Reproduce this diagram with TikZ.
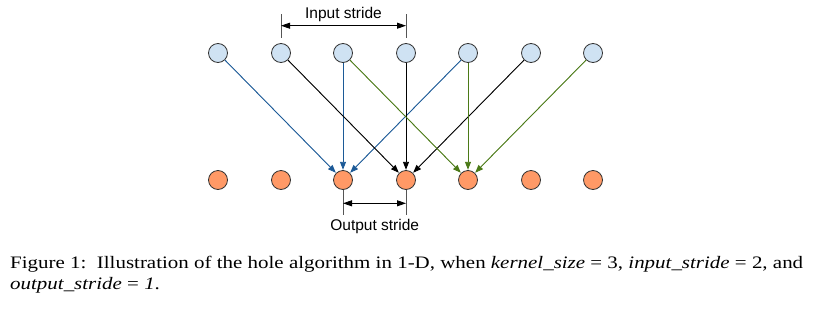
\documentclass[tikz,border=0pt]{standalone}
\usepackage{fontspec}
\setmainfont{Liberation Serif}
\setsansfont{Liberation Sans}
\usepackage{graphicx}
\usetikzlibrary{arrows.meta}
\definecolor{infill}{HTML}{CFE2F3}
\definecolor{outfill}{HTML}{FF9966}
\definecolor{edgeblue}{HTML}{1C5A97}
\definecolor{edgegreen}{HTML}{4B7A17}
\definecolor{circline}{HTML}{333333}
\definecolor{tickgray}{HTML}{555555}
\begin{document}
\begin{tikzpicture}[x=1pt,y=-1pt,
  innode/.style={circle,draw=circline,fill=infill,line width=0.8pt,minimum size=19pt,inner sep=0pt},
  outnode/.style={circle,draw=circline,fill=outfill,line width=0.8pt,minimum size=19pt,inner sep=0pt},
  conn/.style={line width=0.9pt,-{Triangle[length=8pt,width=6pt]},shorten >=0.3pt},
  blueedge/.style={conn,draw=edgeblue,fill=edgeblue},
  blackedge/.style={conn,draw=black,fill=black},
  greenedge/.style={conn,draw=edgegreen,fill=edgegreen},
  tickline/.style={draw=tickgray,line width=1pt},
  stridearrow/.style={line width=0.9pt,{Triangle[length=9pt,width=6pt]}-{Triangle[length=9pt,width=6pt]}},
  lbl/.style={font=\sffamily\fontsize{15.5}{18}\selectfont,inner sep=0pt},
  captionnode/.style={inner sep=0pt,anchor=base west}
]
\useasboundingbox (0,0) rectangle (821,308);
\foreach \i/\x in {0/218,1/281,2/343,3/406,4/468,5/531,6/593} {
  \node[innode] (i\i) at (\x,53) {};
  \node[outnode] (o\i) at (\x,180) {};
}
% edges
\draw[blueedge] (i0) -- (o2);
\draw[blueedge] (i2) -- (o2);
\draw[blueedge] (i4) -- (o2);
\draw[blackedge] (i1) -- (o3);
\draw[blackedge] (i3) -- (o3);
\draw[blackedge] (i5) -- (o3);
\draw[greenedge] (i2) -- (o4);
\draw[greenedge] (i4) -- (o4);
\draw[greenedge] (i6) -- (o4);
% input stride
\coordinate (ita) at (281,14);
\coordinate (itb) at (281,38);
\coordinate (itc) at (406,14);
\coordinate (itd) at (406,38);
\coordinate (iaa) at (281,25.7);
\coordinate (iab) at (406,25.7);
\draw[tickline] (ita) -- (itb);
\draw[tickline] (itc) -- (itd);
\draw[stridearrow] (iaa) -- (iab);
\node[lbl,anchor=base] (inlbl) at (343.5,18.3) {Input stride};
% output stride
\coordinate (ota) at (343,190);
\coordinate (otb) at (343,215);
\coordinate (otc) at (406,190);
\coordinate (otd) at (406,215);
\coordinate (oaa) at (343,203.3);
\coordinate (oab) at (406,203.3);
\draw[tickline] (ota) -- (otb);
\draw[tickline] (otc) -- (otd);
\draw[stridearrow] (oaa) -- (oab);
\node[lbl,anchor=base] (outlbl) at (374.7,230.7) {Output stride};
% caption
\node[captionnode] (cap) at (10,268.8) {\resizebox{793pt}{\height}{\fontsize{17.5}{20.5}\selectfont\begin{tabular}[t]{@{}l@{}}Figure 1:\ \ Illustration of the hole algorithm in 1-D, when \textit{kernel\_size} = 3, \textit{input\_stride} = 2, and\\ \textit{output\_stride} = \textit{1}.\end{tabular}}};
\end{tikzpicture}
\end{document}
